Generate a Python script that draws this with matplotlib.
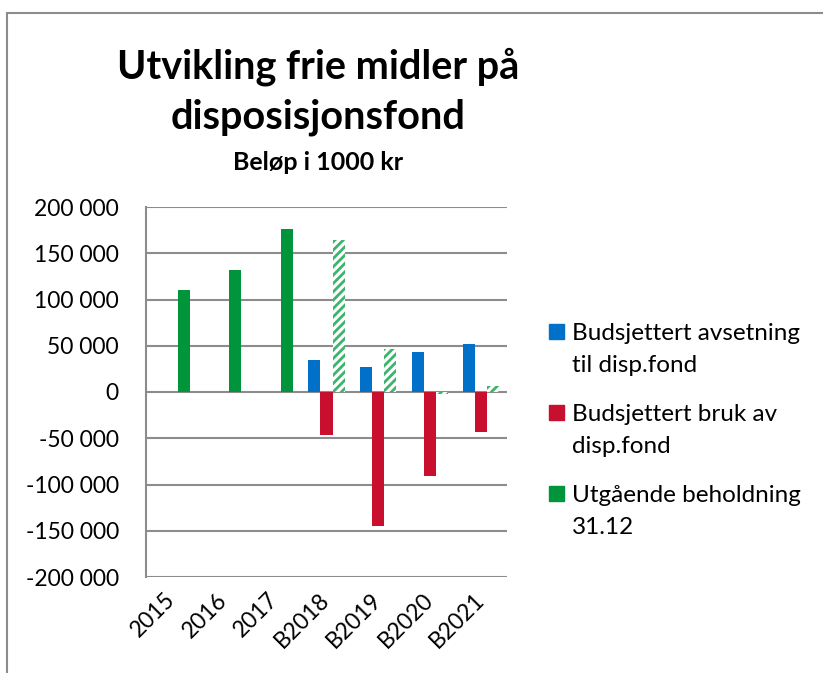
import matplotlib.pyplot as plt
import numpy as np
from matplotlib.patches import Rectangle
from matplotlib.ticker import FuncFormatter

plt.rcParams['font.family'] = ['Lato', 'DejaVu Sans']
plt.rcParams['hatch.linewidth'] = 2.0

# Beløp i 1000 kr
kategorier = ['2015', '2016', '2017', 'B2018', 'B2019', 'B2020', 'B2021']
avsetning = [0, 0, 0, 34300, 27000, 42900, 52300]
bruk = [0, 0, 0, -46200, -144500, -91200, -43200]
utgaende = [110000, 131600, 175900, 164000, 46100, -2000, 6100]

serier = ['Budsjettert avsetning\ntil disp.fond',
          'Budsjettert bruk av\ndisp.fond',
          'Utgående beholdning\n31.12']

blaa = '#0070C8'
roed = '#C8102E'
groenn = '#00953A'
groenn_lys = '#3DB46C'

W, H = 823, 673
fig = plt.figure(figsize=(W / 100, H / 100), dpi=100)
ax = fig.add_axes([146 / W, 96 / H, 361 / W, 370 / H])

x = np.arange(len(kategorier))
w = 0.233
budsjett = np.array([k.startswith('B') for k in kategorier])
utg = np.array(utgaende)

ax.bar(x - w, avsetning, w, color=blaa, zorder=3)
ax.bar(x, bruk, w, color=roed, zorder=3)
ax.bar(x[~budsjett] + w, utg[~budsjett], w, color=groenn, zorder=3)
# budsjetterte beholdninger skravert
ax.bar(x[budsjett] + w, utg[budsjett], w, facecolor='white', edgecolor=groenn_lys,
       hatch='////', linewidth=0, zorder=3)

ax.set_xlim(-0.5, len(kategorier) - 0.5)
ax.set_ylim(-200000, 200000)
ax.set_yticks(np.arange(-200000, 200001, 50000))
ax.yaxis.set_major_formatter(FuncFormatter(lambda v, p: f'{v:,.0f}'.replace(',', ' ')))
ax.grid(axis='y', color='#8C8C8C', linewidth=1.5, zorder=0)
ax.set_axisbelow(True)
ax.tick_params(axis='both', length=0, labelsize=16.5, colors='black')
ax.tick_params(axis='y', pad=19.5)
ax.set_xticks(x)
ax.set_xticklabels(kategorier, rotation=45, ha='right', va='center',
                   rotation_mode='anchor')
ax.tick_params(axis='x', pad=14)

for s in ['top', 'right', 'bottom']:
    ax.spines[s].set_visible(False)
ax.spines['left'].set_color('#8C8C8C')
ax.spines['left'].set_linewidth(1.5)

# tittel
fig.text(318 / W, 1 - 78 / H, 'Utvikling frie midler på', ha='center', va='baseline',
         fontsize=28.5, fontweight='bold')
fig.text(318 / W, 1 - 128 / H, 'disposisjonsfond', ha='center', va='baseline',
         fontsize=28.5, fontweight='bold')
fig.text(318 / W, 1 - 170 / H, 'Beløp i 1000 kr', ha='center', va='baseline',
         fontsize=18, fontweight='bold')

# forklaring, firkant på linje med første tekstlinje
for i, (navn, farge) in enumerate(zip(serier, [blaa, roed, groenn])):
    y0 = 340 + i * 81
    fig.add_artist(Rectangle((549 / W, 1 - (y0 - 1) / H), 15 / W, 15 / H,
                             transform=fig.transFigure, color=farge))
    for j, linje in enumerate(navn.split('\n')):
        fig.text(572 / W, 1 - (y0 + 32 * j) / H, linje, ha='left', va='baseline',
                 fontsize=17.5)

# ytre ramme
fig.add_artist(Rectangle((7 / W, -0.1), 1.2, 1 - 13 / H + 0.1,
                         transform=fig.transFigure, fill=False,
                         edgecolor='#8C8C8C', linewidth=1.5))

fig.savefig('out.png', dpi=100)
